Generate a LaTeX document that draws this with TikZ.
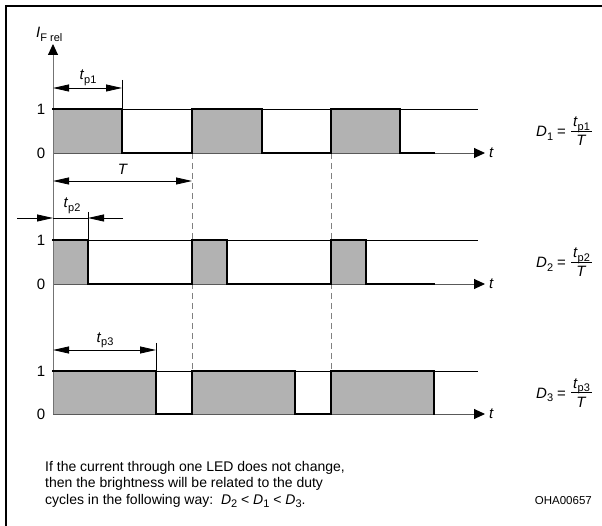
\documentclass[tikz,border=0pt]{standalone}
\usepackage{fontspec}
\setmainfont{Liberation Sans}
\usetikzlibrary{arrows.meta}
\newcommand{\lsub}[1]{\raisebox{-3.5pt}{\fontsize{11}{12}\selectfont #1}}
\begin{document}
\begin{tikzpicture}[x=1pt,y=-1pt,
  wave/.style={line width=2.6pt, line join=miter, line cap=rect},
  thinline/.style={line width=0.9pt},
  axisline/.style={line width=0.9pt, draw=black!65},
  vaxis/.style={line width=0.9pt, draw=black!55},
  fillbox/.style={fill=black!30, draw=none},
  tri/.tip={Triangle[length=16pt,width=7pt]},
  dimline/.style={line width=0.8pt, tri-tri},
  tarrow/.style={axisline, -{Triangle[length=11pt,width=10pt,black]}},
  dashline/.style={line width=1pt, draw=black!50, dash pattern=on 6pt off 4pt},
  lbl/.style={font=\fontsize{15}{17}\selectfont, inner sep=0pt},
  txt/.style={font=\fontsize{14}{16.5}\selectfont, inner sep=0pt, align=left}
]
\useasboundingbox (0,0) rectangle (602,526);
\fill[white] (0,0) rectangle (602,526);
% frame
\draw[line width=2.5pt] (6,526) -- (6,6) -- (602,6);

% ===== gray fills =====
\fill[fillbox] (53,109) rectangle (122,153);
\fill[fillbox] (192,109) rectangle (262,153);
\fill[fillbox] (331,109) rectangle (400,153);
\fill[fillbox] (53,240) rectangle (88,284);
\fill[fillbox] (192,240) rectangle (227,284);
\fill[fillbox] (331,240) rectangle (366,284);
\fill[fillbox] (53,371) rectangle (156,414);
\fill[fillbox] (192,371) rectangle (295,414);
\fill[fillbox] (331,371) rectangle (434,414);

% ===== dashed lines =====
\draw[dashline] (192,153) -- (192,371);
\draw[dashline] (331,153) -- (331,371);

% ===== level-1 thin lines =====
\draw[thinline] (53,109) -- (478,109);
\draw[thinline] (53,240) -- (478,240);
\draw[thinline] (53,371) -- (478,371);

% ===== time axes =====
\coordinate (o1) at (53,153);
\coordinate (e1) at (485,153);
\coordinate (o2) at (53,284);
\coordinate (e2) at (485,284);
\coordinate (o3) at (53,414);
\coordinate (e3) at (485,414);
\draw[tarrow] (o1) -- (e1);
\draw[tarrow] (o2) -- (e2);
\draw[tarrow] (o3) -- (e3);
\node[lbl, font=\fontsize{15}{17}\selectfont\itshape, anchor=west] (t1) at (489,153) {t};
\node[lbl, font=\fontsize{15}{17}\selectfont\itshape, anchor=west] (t2) at (489,284) {t};
\node[lbl, font=\fontsize{15}{17}\selectfont\itshape, anchor=west] (t3) at (489,414) {t};

% ===== vertical axis =====
\coordinate (vb) at (53,414);
\coordinate (vt) at (53,44);
\draw[vaxis, -{Triangle[length=11pt,width=10pt,black]}] (vb) -- (vt);
\node[lbl, anchor=base west] (ylab) at (36,38) {\textit{I}\lsub{F rel}};

% ===== waveforms =====
\draw[wave] (53,109) -- (122,109) -- (122,153) -- (192,153) -- (192,109) -- (262,109) -- (262,153) -- (331,153) -- (331,109) -- (400,109) -- (400,153) -- (434,153);
\draw[wave] (53,240) -- (88,240) -- (88,284) -- (192,284) -- (192,240) -- (227,240) -- (227,284) -- (331,284) -- (331,240) -- (366,240) -- (366,284) -- (434,284);
\draw[wave] (53,371) -- (156,371) -- (156,414) -- (192,414) -- (192,371) -- (295,371) -- (295,414) -- (331,414) -- (331,371) -- (434,371) -- (434,414);

% ===== level labels =====
\node[lbl] (one1) at (41,109) {1};
\node[lbl] (zero1) at (41,153) {0};
\node[lbl] (one2) at (41,240) {1};
\node[lbl] (zero2) at (41,284) {0};
\node[lbl] (one3) at (41,371) {1};
\node[lbl] (zero3) at (41,414) {0};

% ===== dimension tp1 and T =====
\draw[thinline] (122,80) -- (122,109);
\coordinate (a1) at (53,88);
\coordinate (b1) at (122,88);
\draw[dimline] (a1) -- (b1);
\node[lbl, anchor=base] (tp1) at (88,80) {\textit{t}\lsub{p1}};
\coordinate (aT) at (53,181);
\coordinate (bT) at (192,181);
\draw[dimline] (aT) -- (bT);
\node[lbl, anchor=base] (Tl) at (123,175) {\textit{T}};

% ===== dimension tp2 =====
\draw[thinline] (88,212) -- (88,240);
\coordinate (a2o) at (17,218);
\coordinate (a2) at (53,218);
\coordinate (b2) at (88,218);
\coordinate (b2o) at (123,218);
\draw[line width=0.8pt, -tri] (a2o) -- (a2);
\draw[line width=0.8pt] (a2) -- (b2);
\draw[line width=0.8pt, -tri] (b2o) -- (b2);
\node[lbl, anchor=base] (tp2) at (72,208) {\textit{t}\lsub{p2}};

% ===== dimension tp3 =====
\draw[thinline] (156,343) -- (156,371);
\coordinate (a3) at (53,350);
\coordinate (b3) at (156,350);
\draw[dimline] (a3) -- (b3);
\node[lbl, anchor=base] (tp3) at (105,342) {\textit{t}\lsub{p3}};

% ===== duty cycle formulas =====
\foreach \i/\yb in {1/131, 2/262, 3/392} {
  \node[lbl, anchor=base west] (D\i) at (536,\yb+6) {\textit{D}\lsub{\i}};
  \node[lbl, anchor=base west] (eq\i) at (557,\yb+6) {=};
  \draw[line width=0.8pt] (571,\yb) -- (592,\yb);
  \node[lbl, anchor=base] (num\i) at (581.5,\yb-4) {\textit{t}\lsub{p\i}};
  \node[lbl, anchor=base] (den\i) at (581.5,\yb+15) {\textit{T}};
}

% ===== bottom text =====
\node[txt, anchor=base west] (note) at (45,471) {If the current through one LED does not change,};
\node[txt, anchor=base west] (note2) at (45,487.5) {then the brightness will be related to the duty};
\node[txt, anchor=base west] (note3) at (45,504) {cycles in the following way:\ \ \textit{D}\lsub{2} < \textit{D}\lsub{1} < \textit{D}\lsub{3}.};
\node[inner sep=0pt, font=\fontsize{11.5}{12}\selectfont, anchor=base east] (code) at (592,504) {OHA00657};
\end{tikzpicture}
\end{document}
